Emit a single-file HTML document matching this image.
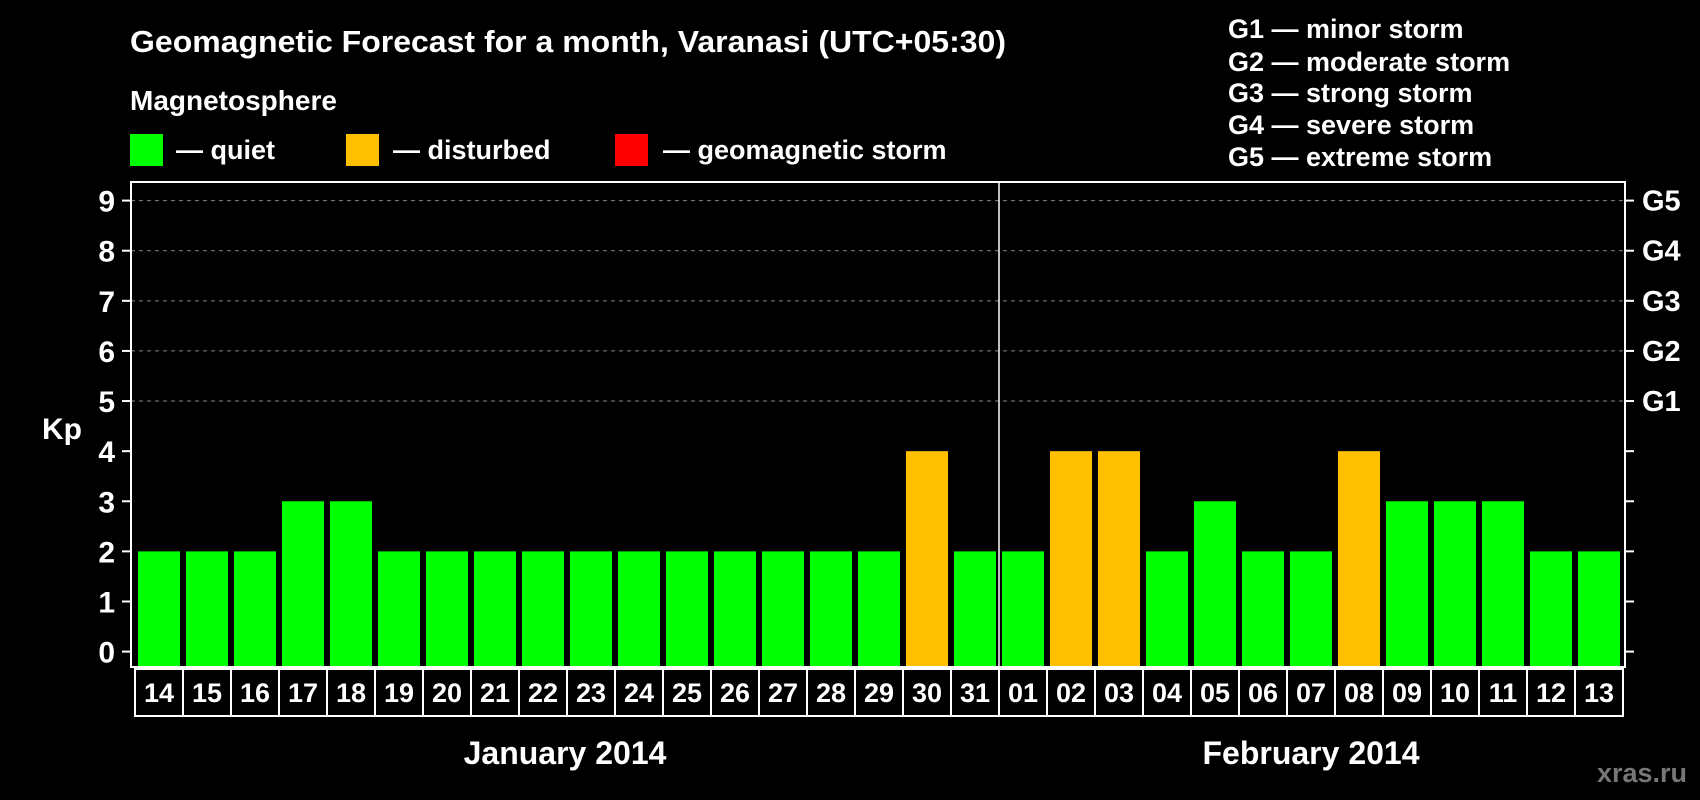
<!DOCTYPE html>
<html><head><meta charset="utf-8">
<style>
html,body{margin:0;padding:0;background:#000;}
svg{display:block;font-family:"Liberation Sans",Arial,sans-serif;font-weight:bold;}
</style></head>
<body>
<svg id="chart" width="1700" height="800" viewBox="0 0 1700 800" xmlns="http://www.w3.org/2000/svg">
<rect width="1700" height="800" fill="#000"/>
<text x="130" y="52" fill="#fff" font-size="31" textLength="876" lengthAdjust="spacingAndGlyphs">Geomagnetic Forecast for a month, Varanasi (UTC+05:30)</text>
<text x="130" y="110" fill="#fff" font-size="28">Magnetosphere</text>
<g><rect x="130" y="134" width="33" height="32" fill="#00ff00"/><text x="176" y="159" fill="#fff" font-size="27">— quiet</text></g>
<g><rect x="346" y="134" width="33" height="32" fill="#ffc000"/><text x="393" y="159" fill="#fff" font-size="27">— disturbed</text></g>
<g><rect x="615" y="134" width="33" height="32" fill="#ff0000"/><text x="663" y="159" fill="#fff" font-size="27">— geomagnetic storm</text></g>
<g fill="#fff" font-size="27">
<text x="1228" y="38">G1 — minor storm</text>
<text x="1228" y="71">G2 — moderate storm</text>
<text x="1228" y="102">G3 — strong storm</text>
<text x="1228" y="134">G4 — severe storm</text>
<text x="1228" y="166">G5 — extreme storm</text>
</g>
<text x="42" y="439" fill="#fff" font-size="30">Kp</text>
<g id="grid"></g>
<g id="bars"></g>
<g id="axes"></g>
<text x="565" y="764" fill="#fff" font-size="32" text-anchor="middle">January 2014</text>
<text x="1311" y="764" fill="#fff" font-size="32" text-anchor="middle">February 2014</text>
<text x="1642" y="782" fill="#777" font-size="27" text-anchor="middle">xras.ru</text>
</svg>
<script>
const days = ["14","15","16","17","18","19","20","21","22","23","24","25","26","27","28","29","30","31","01","02","03","04","05","06","07","08","09","10","11","12","13"];
const kpValues = [2,2,2,3,3,2,2,2,2,2,2,2,2,2,2,2,4,2,2,4,4,2,3,2,2,4,3,3,3,2,2];
const yTicks = [0,1,2,3,4,5,6,7,8,9];
const gLabels = ["G1","G2","G3","G4","G5"];
const gLevels = [5,6,7,8,9];

const NS="http://www.w3.org/2000/svg";
const L=131,R=1625,T=182,B=667;
const x0=138,pitch=48,bw=42;
function y(v){return 651.6-v*(451/9);}
function xs(i){return x0+i*pitch;}
function mk(tag,attrs,parent){const e=document.createElementNS(NS,tag);for(const k in attrs)e.setAttribute(k,attrs[k]);parent.appendChild(e);return e;}
function color(v){return v>=5?"#ff0000":(v>=4?"#ffc000":"#00ff00");}
const grid=document.getElementById('grid'),bars=document.getElementById('bars'),axes=document.getElementById('axes');
gLevels.forEach((lv,i)=>{
 const ln=mk('line',{x1:L,x2:R,y1:y(lv),y2:y(lv),stroke:'#888','stroke-width':1,'stroke-dasharray':'4,4'},grid);
 
 
 const t=mk('text',{x:1642,y:y(lv)+10,fill:'#fff','font-size':29},axes);t.textContent=gLabels[i];
 
 
});
kpValues.forEach((v,i)=>{
 const r=mk('rect',{x:xs(i),y:y(v),width:bw,height:B-y(v),fill:color(v)},bars);
 
 
 const c=mk('rect',{x:xs(i)-3,y:669,width:pitch,height:47,fill:'none',stroke:'#fff','stroke-width':2},axes);
 
 
 const t=mk('text',{x:xs(i)-3+pitch/2,y:702,fill:'#fff','font-size':27,'text-anchor':'middle'},axes);t.textContent=days[i];
 
 
});
const frame=mk('rect',{x:L,y:T,width:R-L,height:B-T,fill:'none',stroke:'#fff','stroke-width':2},axes);


const div=mk('line',{x1:xs(18)-3,x2:xs(18)-3,y1:T,y2:B,stroke:'#fff','stroke-width':1.5},axes);


yTicks.forEach(v=>{
 mk('line',{x1:122,x2:L,y1:y(v),y2:y(v),stroke:'#fff','stroke-width':2},axes);
 mk('line',{x1:R,x2:R+9,y1:y(v),y2:y(v),stroke:'#fff','stroke-width':2},axes);
 const t=mk('text',{x:115,y:y(v)+11,fill:'#fff','font-size':30,'text-anchor':'end'},axes);t.textContent=v;
 
 
});
</script>
</body></html>
